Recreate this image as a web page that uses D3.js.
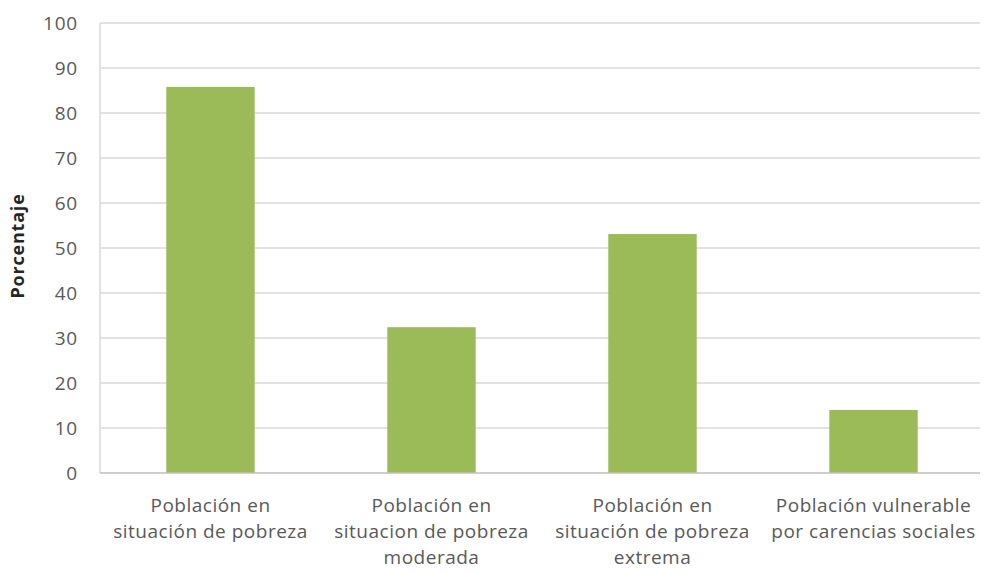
<!DOCTYPE html>
<html><head><meta charset="utf-8">
<script src="https://cdn.jsdelivr.net/npm/d3@7"></script>
<style>body{margin:0;background:#fff}svg{display:block}</style>
</head><body>
<svg id="c" width="983" height="573"></svg>
<script>
const categories = [
  ["Población en", "situación de pobreza"],
  ["Población en", "situacion de pobreza", "moderada"],
  ["Población en", "situación de pobreza", "extrema"],
  ["Población vulnerable", "por carencias sociales"]
];
const values = [85.8, 32.4, 53.1, 14.0];
const yTicks = [0, 10, 20, 30, 40, 50, 60, 70, 80, 90, 100];
const yTitle = "Porcentaje";

(function () {
const svg = d3.select("#c");
const pL = 100, pR = 984, pT = 23, pB = 473;
const x = d3.scaleBand().domain(d3.range(values.length)).range([pL, pR]).paddingInner(0.6).paddingOuter(0.3);
const y = d3.scaleLinear().domain([0, 100]).range([pB, pT]);

// gridlines
svg.append("g").selectAll("line").data(yTicks.filter(d => d > 0)).join("line")
  .attr("x1", pL).attr("x2", 980).attr("y1", d => y(d)).attr("y2", d => y(d))
  .attr("stroke", "#d9d9d9").attr("stroke-width", 1.5);
// left axis line
svg.append("line").attr("x1", pL).attr("x2", pL).attr("y1", pT).attr("y2", pB)
  .attr("stroke", "#d9d9d9").attr("stroke-width", 1.5);

// bars
svg.append("g").selectAll("rect").data(values).join("rect")
  .attr("x", (d, i) => x(i)).attr("width", x.bandwidth())
  .attr("y", d => y(d)).attr("height", d => pB - y(d))
  .attr("fill", "#9bbb59");

// bottom axis line
svg.append("line").attr("x1", pL).attr("x2", 980).attr("y1", pB).attr("y2", pB)
  .attr("stroke", "#bfbfbf").attr("stroke-width", 1.5);

// y axis labels
const yAxis = d3.axisLeft(y).tickValues(yTicks).tickSize(0).tickPadding(22);
const ga = svg.append("g").attr("transform", `translate(${pL},0)`).call(yAxis);
ga.select(".domain").remove();
ga.selectAll("text").attr("font-family", "Open Sans, sans-serif").attr("font-size", 19)
  .attr("letter-spacing", 0.8).attr("fill", "#595959");

// y title
svg.append("text").attr("transform", `translate(24,246) rotate(-90)`).attr("text-anchor", "middle")
  .attr("font-family", "Open Sans, sans-serif").attr("font-weight", "bold").attr("font-size", 18)
  .attr("letter-spacing", 0.8).attr("fill", "#262626").text(yTitle);

// category labels
const cg = svg.append("g");
categories.forEach((lines, i) => {
  const t = cg.append("text").attr("text-anchor", "middle")
    .attr("font-family", "Open Sans, sans-serif").attr("font-size", 19).attr("letter-spacing", 0.5)
    .attr("fill", "#595959");
  lines.forEach((l, j) => {
    t.append("tspan").attr("x", x(i) + x.bandwidth() / 2).attr("y", 512 + j * 26).text(l);
  });
});
})();
</script>
</body></html>
